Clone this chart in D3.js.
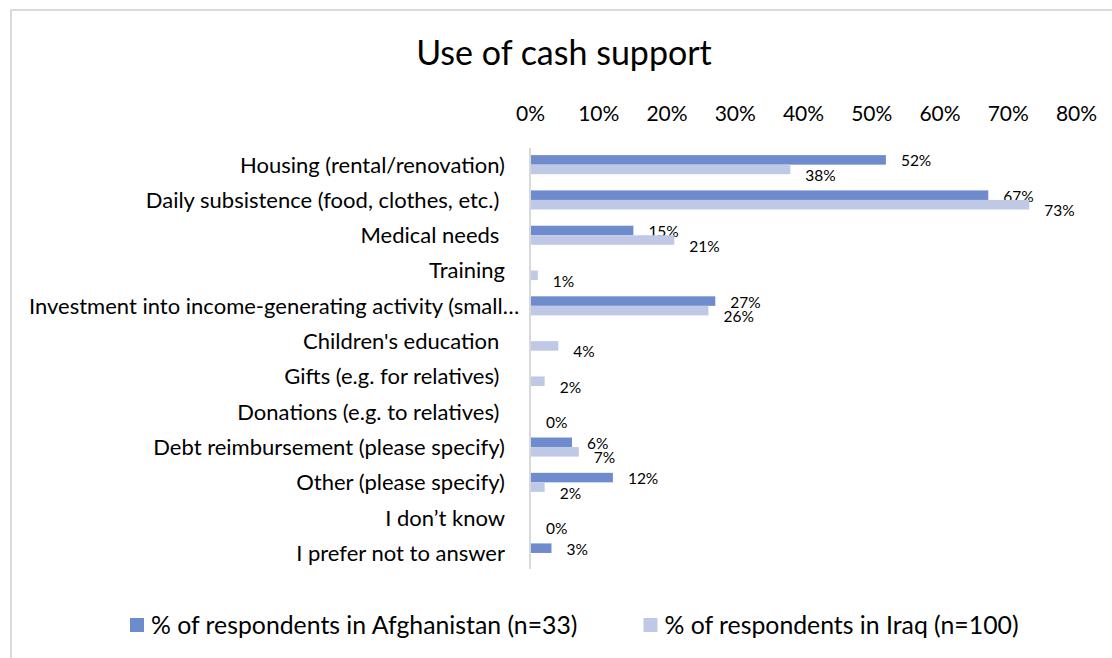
<!DOCTYPE html>
<html>
<head>
<meta charset="utf-8">
<script src="https://cdn.jsdelivr.net/npm/d3@7"></script>
<style>
  html, body { margin: 0; padding: 0; background: #ffffff; }
  svg { display: block; font-family: Lato, "Open Sans", sans-serif; }
  text { fill: #000000; }
</style>
</head>
<body>
<svg id="chart" width="1112" height="658"></svg>
<script>
// Survey: what respondents used their cash support for (share of respondents, %)
const categories = [
  "Housing (rental/renovation)",
  "Daily subsistence (food, clothes, etc.) ",
  "Medical needs ",
  "Training",
  "Investment into income-generating activity (small business, livestock, etc.)",
  "Children's education ",
  "Gifts (e.g. for relatives) ",
  "Donations (e.g. to relatives) ",
  "Debt reimbursement (please specify)",
  "Other (please specify)",
  "I don\u2019t know",
  "I prefer not to answer"
];
// null = no answer recorded for that option
const afghanistan = [52, 67, 15, null, 27, null, null, null, 6, 12, null, 3];
const iraq        = [38, 73, 21, 1, 26, 4, 2, 0, 7, 2, 0, null];

const seriesNames = [
  "% of respondents in Afghanistan (n=33)",
  "% of respondents in Iraq (n=100)"
];
const tickValues = [0, 10, 20, 30, 40, 50, 60, 70, 80];
const chartTitle = "Use of cash support";

const colors = ["#6E8BCD", "#BFC9E6"];

const svg = d3.select("#chart");

// chart frame
svg.append("rect")
  .attr("x", 11).attr("y", 10)
  .attr("width", 1200).attr("height", 800)
  .attr("fill", "none")
  .attr("stroke", "#d9d9d9")
  .attr("stroke-width", 2);

// title
svg.append("text")
  .attr("x", 564).attr("y", 65)
  .attr("text-anchor", "middle")
  .attr("font-size", 34)
  .text(chartTitle);

const x = d3.scaleLinear().domain([0, 80]).range([531, 1077]);

const y = d3.scaleBand()
  .domain(categories)
  .range([147, 570.6])
  .paddingInner(0.46)
  .paddingOuter(0.23);

const ySub = d3.scaleBand()
  .domain([0, 1])
  .range([0, y.bandwidth()]);

// top percentage axis
const xAxis = svg.append("g")
  .attr("transform", "translate(-1,121)")
  .call(d3.axisTop(x)
    .tickValues(tickValues)
    .tickSize(0)
    .tickPadding(0)
    .tickFormat(d => d + "%"));
xAxis.select(".domain").remove();
xAxis.selectAll("text")
  .attr("font-size", 21)
  .attr("font-family", "Lato, sans-serif")
  .attr("fill", "#000");

// category labels (right-aligned; overly long ones are cut with an ellipsis)
const labelRight = 505;
const labelLeft = 29;
const maxLabelWidth = 500;
const catG = svg.append("g");
categories.forEach(c => {
  const t = catG.append("text")
    .attr("y", y(c) + y.bandwidth() / 2)
    .attr("dy", "0.36em")
    .attr("font-size", 22)
    .style("white-space", "pre")
    .text(c);
  let w = t.node().getComputedTextLength();
  if (w > labelRight - labelLeft) {
    let s = c;
    while (s.length > 1 && t.node().getComputedTextLength() > maxLabelWidth) {
      s = s.slice(0, -1).trimEnd();
      t.text(s + "\u2026");
    }
    t.attr("x", labelLeft).attr("text-anchor", "start");
  } else {
    t.attr("x", labelRight).attr("text-anchor", "end");
  }
});

// vertical category axis line
svg.append("line")
  .attr("x1", 530).attr("x2", 530)
  .attr("y1", 148).attr("y2", 569)
  .attr("stroke", "#d9d9d9")
  .attr("stroke-width", 2);

// bars + value labels
const series = [afghanistan, iraq];
const labelDy = [1, 6];
series.forEach((vals, si) => {
  const g = svg.append("g");
  const rows = categories.map((c, i) => ({ c, v: vals[i] })).filter(d => d.v !== null);
  g.selectAll("rect")
    .data(rows)
    .join("rect")
    .attr("x", x(0))
    .attr("y", d => y(d.c) + ySub(si))
    .attr("width", d => x(d.v) - x(0))
    .attr("height", ySub.bandwidth())
    .attr("fill", colors[si]);
  g.selectAll("text")
    .data(rows)
    .join("text")
    .attr("x", d => x(d.v) + 15)
    .attr("y", d => y(d.c) + ySub(si) + ySub.bandwidth() / 2 + labelDy[si])
    .attr("dy", "0.36em")
    .attr("font-size", 15.5)
    .text(d => d.v + "%");
});

// legend
const legend = svg.append("g");
let lx = 130;
seriesNames.forEach((name, i) => {
  legend.append("rect")
    .attr("x", lx).attr("y", 618)
    .attr("width", 14).attr("height", 14)
    .attr("fill", colors[i]);
  const t = legend.append("text")
    .attr("x", lx + 21).attr("y", 625)
    .attr("dy", "0.36em")
    .attr("font-size", 24.8)
    .text(name);
  lx += 21 + t.node().getComputedTextLength() + 66;
});
</script>
</body>
</html>
